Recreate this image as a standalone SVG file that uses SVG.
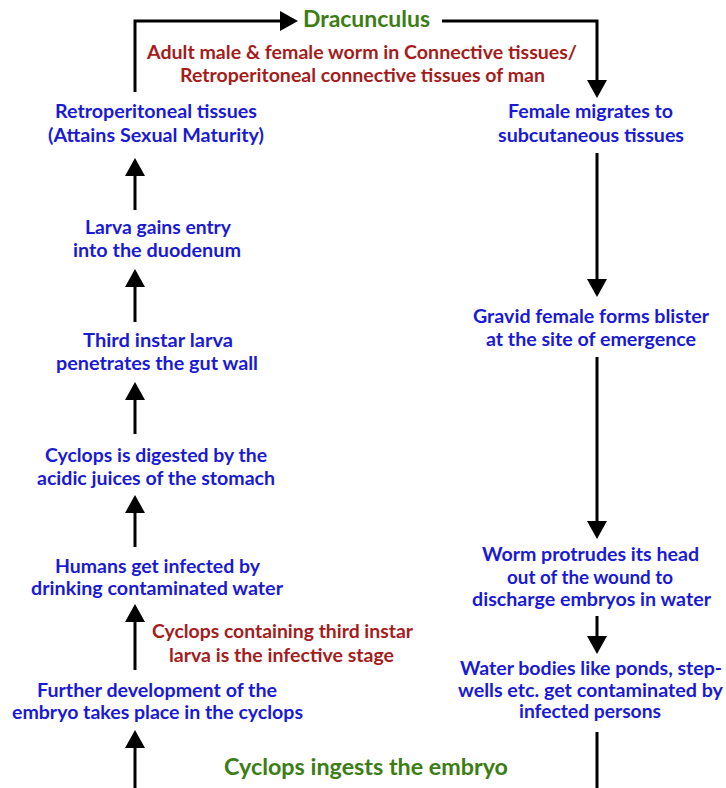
<svg xmlns="http://www.w3.org/2000/svg" width="726" height="788" viewBox="0 0 726 788">
<defs>
<marker id="ah" viewBox="0 0 18 20" refX="0" refY="10" markerWidth="18" markerHeight="20" markerUnits="userSpaceOnUse" orient="auto">
<path d="M0,0 L18,10 L0,20 z" fill="#000"/>
</marker>
<style>
text{font-family:Lato,"Open Sans","Liberation Sans",sans-serif;font-weight:bold;text-anchor:middle}
.b{fill:#1a1ad4;font-size:19px}
.r{fill:#a51c1c;font-size:19px}
.g{fill:#3c7d14;font-size:22px}
.c{fill:none;stroke:#000;stroke-width:3;marker-end:url(#ah)}
.n{fill:none;stroke:#000;stroke-width:3}
</style>
</defs>
<rect width="726" height="788" fill="#fff"/>
<g id="connectors">
<path class="c" d="M135,92 V21 H280"/>
<path class="c" d="M442,21 H597 V80"/>
<path class="c" d="M597,153 V279"/>
<path class="c" d="M597,357 V521"/>
<path class="c" d="M597,616 V636"/>
<path class="n" d="M597,732 V788"/>
<path class="c" d="M135,210 V176"/>
<path class="c" d="M135,322 V287"/>
<path class="c" d="M135,434 V400"/>
<path class="c" d="M135,547 V513"/>
<path class="c" d="M135,670 V622"/>
<path class="c" d="M135,788 V748"/>
</g>
<g id="title"><text class="g" x="366.5" y="27" textLength="127" lengthAdjust="spacingAndGlyphs">Dracunculus</text></g>
<g id="adult-label">
<text class="r" x="362" y="59" textLength="430" lengthAdjust="spacingAndGlyphs">Adult male &amp; female worm in Connective tissues/</text>
<text class="r" x="362.5" y="82" textLength="365" lengthAdjust="spacingAndGlyphs">Retroperitoneal connective tissues of man</text>
</g>
<g id="retroperitoneal">
<text class="b" x="156" y="118" textLength="202" lengthAdjust="spacingAndGlyphs">Retroperitoneal tissues</text>
<text class="b" x="156" y="142" textLength="216" lengthAdjust="spacingAndGlyphs">(Attains Sexual Maturity)</text>
</g>
<g id="duodenum">
<text class="b" x="158" y="234" textLength="146" lengthAdjust="spacingAndGlyphs">Larva gains entry</text>
<text class="b" x="157" y="257" textLength="168" lengthAdjust="spacingAndGlyphs">into the duodenum</text>
</g>
<g id="gut-wall">
<text class="b" x="158" y="347" textLength="150" lengthAdjust="spacingAndGlyphs">Third instar larva</text>
<text class="b" x="157" y="370" textLength="202" lengthAdjust="spacingAndGlyphs">penetrates the gut wall</text>
</g>
<g id="digested">
<text class="b" x="156" y="462" textLength="222" lengthAdjust="spacingAndGlyphs">Cyclops is digested by the</text>
<text class="b" x="156" y="485" textLength="238" lengthAdjust="spacingAndGlyphs">acidic juices of the stomach</text>
</g>
<g id="infected">
<text class="b" x="157.5" y="573" textLength="205" lengthAdjust="spacingAndGlyphs">Humans get infected by</text>
<text class="b" x="157" y="595" textLength="252" lengthAdjust="spacingAndGlyphs">drinking contaminated water</text>
</g>
<g id="infective-label">
<text class="r" x="282.5" y="638" textLength="261" lengthAdjust="spacingAndGlyphs">Cyclops containing third instar</text>
<text class="r" x="281.5" y="662" textLength="225" lengthAdjust="spacingAndGlyphs">larva is the infective stage</text>
</g>
<g id="development">
<text class="b" x="157" y="697" textLength="240" lengthAdjust="spacingAndGlyphs">Further development of the</text>
<text class="b" x="157.5" y="719" textLength="291" lengthAdjust="spacingAndGlyphs">embryo takes place in the cyclops</text>
</g>
<g id="ingests"><text class="g" x="366" y="775" textLength="284" lengthAdjust="spacingAndGlyphs">Cyclops ingests the embryo</text></g>
<g id="migrates">
<text class="b" x="590.5" y="118" textLength="165" lengthAdjust="spacingAndGlyphs">Female migrates to</text>
<text class="b" x="591" y="142" textLength="186" lengthAdjust="spacingAndGlyphs">subcutaneous tissues</text>
</g>
<g id="blister">
<text class="b" x="591" y="323" textLength="236" lengthAdjust="spacingAndGlyphs">Gravid female forms blister</text>
<text class="b" x="591" y="346" textLength="210" lengthAdjust="spacingAndGlyphs">at the site of emergence</text>
</g>
<g id="protrudes">
<text class="b" x="590.5" y="561" textLength="217" lengthAdjust="spacingAndGlyphs">Worm protrudes its head</text>
<text class="b" x="590" y="584" textLength="166" lengthAdjust="spacingAndGlyphs">out of the wound to</text>
<text class="b" x="591.5" y="606" textLength="239" lengthAdjust="spacingAndGlyphs">discharge embryos in water</text>
</g>
<g id="water-bodies">
<text class="b" x="591" y="675" textLength="262" lengthAdjust="spacingAndGlyphs">Water bodies like ponds, step-</text>
<text class="b" x="590.5" y="697" textLength="265" lengthAdjust="spacingAndGlyphs">wells etc. get contaminated by</text>
<text class="b" x="590" y="718" textLength="142" lengthAdjust="spacingAndGlyphs">infected persons</text>
</g>
</svg>
